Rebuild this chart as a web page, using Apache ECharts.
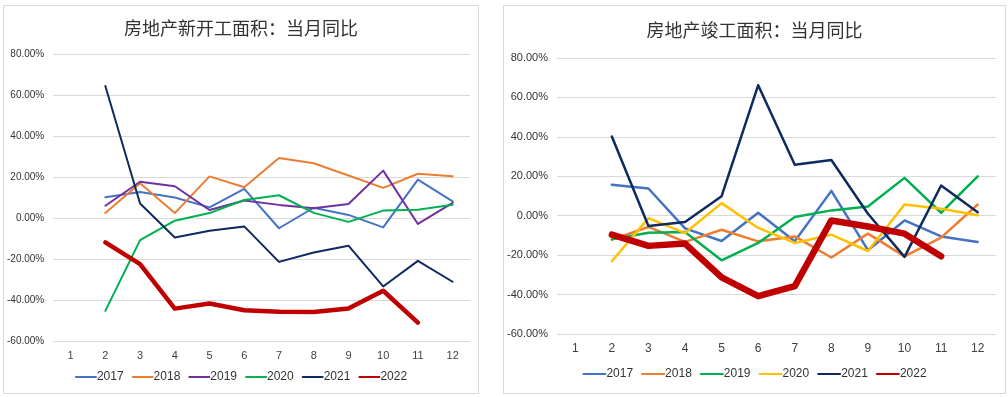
<!DOCTYPE html>
<html>
<head>
<meta charset="utf-8">
<script src="https://cdn.jsdelivr.net/npm/echarts@6/dist/echarts.min.js"></script>
<style>
  body { margin: 0; background: #fff; }
  .card { position: absolute; border: 1px solid #d9d9d9; box-sizing: border-box; background: #fff; }
  #chart_left { left: 3px; top: 5px; width: 476px; height: 389px; }
  #chart_right { left: 503px; top: 5px; width: 503px; height: 389px; }
</style>
</head>
<body>
<div id="chart_left" class="card"></div>
<div id="chart_right" class="card"></div>
<script>
// 月份
var months = ['1','2','3','4','5','6','7','8','9','10','11','12'];
var years = ['2017','2018','2019','2020','2021','2022'];

// 新开工面积 当月同比 (%)
var start2017 = [null, 10.1, 12.7, 10.0, 5.2, 14.2, -5.0, 5.0, 1.5, -4.6, 18.7, 8.1];
var start2018 = [null, 2.4, 16.9, 2.4, 20.3, 15.0, 29.3, 26.7, 20.7, 14.7, 21.6, 20.4];
var start2019 = [null, 6.0, 17.7, 15.5, 3.9, 8.5, 6.4, 4.7, 6.8, 23.1, -2.9, 7.4];
var start2020 = [null, -45.3, -10.8, -1.3, 2.4, 8.8, 11.1, 2.5, -1.9, 3.6, 4.0, 6.5];
var start2021 = [null, 64.4, 7.1, -9.5, -6.2, -4.1, -21.4, -16.8, -13.5, -33.4, -20.9, -31.1];
var start2022 = [null, -11.9, -22.5, -44.2, -41.7, -45.0, -45.7, -45.8, -44.2, -35.5, -51.0, null];

// 竣工面积 当月同比 (%)
var done2017 = [null, 15.7, 13.8, -6.4, -12.8, 1.5, -13.0, 12.6, -17.5, -2.4, -10.5, -13.3];
var done2018 = [null, -12.1, -5.7, -13.3, -7.1, -13.0, -10.5, -21.2, -9.1, -20.6, -11.1, 5.7];
var done2019 = [null, -12.0, -8.6, -8.3, -22.6, -13.8, -0.7, 2.7, 4.7, 19.2, 1.5, 20.0];
var done2020 = [null, -23.1, -1.2, -8.8, 6.4, -6.2, -13.8, -9.6, -17.9, 5.7, 3.5, 0.2];
var done2021 = [null, 40.2, -5.2, -3.2, 9.9, 66.2, 25.8, 28.3, 1.0, -20.9, 15.3, 1.8];
var done2022 = [null, -9.6, -15.3, -14.1, -31.3, -40.8, -35.7, -2.4, -5.5, -9.1, -20.6, null];

var yTicksMin = -60, yTicksMax = 80, yTicksStep = 20;

function makeOption(title, seriesData, colors, widths, cfg) {
    var series = [];
    for (var i = 0; i < years.length; i++) {
        series.push({
            name: years[i],
            type: 'line',
            data: seriesData[i],
            symbol: 'none',
            smooth: false,
            connectNulls: false,
            lineStyle: { width: widths[i], color: colors[i], join: 'round', cap: 'round' },
            itemStyle: { color: colors[i] },
            z: i == 5 ? 10 : 2
        });
    }
    return {
        animation: false,
        title: {
            text: title,
            left: 'center',
            top: cfg.titleTop,
            textStyle: { fontFamily: 'Noto Sans CJK SC', fontSize: 18, fontWeight: 'normal', color: '#333333' }
        },
        legend: {
            data: years,
            bottom: cfg.legendBottom,
            left: 'center',
            itemWidth: cfg.legendW,
            itemHeight: 10,
            itemGap: 8,
            itemStyle: { opacity: 0 },
            textStyle: { fontFamily: 'Liberation Sans', fontSize: cfg.legendFont, color: '#333333', padding: [0, 0, 0, -4] }
        },
        grid: { left: cfg.left, right: cfg.right, top: cfg.top, bottom: cfg.bottom },
        xAxis: {
            type: 'category',
            data: months,
            boundaryGap: true,
            axisLine: { show: false },
            axisTick: { show: false },
            axisLabel: { fontFamily: 'Liberation Sans', fontSize: cfg.xFont, color: '#404040', margin: 9 }
        },
        yAxis: {
            type: 'value',
            min: yTicksMin,
            max: yTicksMax,
            interval: yTicksStep,
            axisLine: { show: false },
            axisTick: { show: false },
            splitLine: { lineStyle: { color: '#d9d9d9', width: 1 } },
            axisLabel: {
                fontFamily: 'Liberation Sans', fontSize: cfg.yFont, color: '#333333', margin: 9,
                formatter: function (v) { return v.toFixed(2) + '%'; }
            }
        },
        series: series
    };
}

var chartLeft = echarts.init(document.getElementById('chart_left'));
chartLeft.setOption(makeOption('房地产新开工面积：当月同比',
    [start2017, start2018, start2019, start2020, start2021, start2022],
    ['#4472C4', '#ED7D31', '#7030A0', '#00B050', '#0E2A60', '#C00000'],
    [2, 2, 2, 2, 2, 4.5],
    { titleTop: 8, legendBottom: 5, legendW: 20, legendFont: 12, left: 48, right: 8, top: 48, bottom: 52, xFont: 11, yFont: 10 }));

var chartRight = echarts.init(document.getElementById('chart_right'));
chartRight.setOption(makeOption('房地产竣工面积：当月同比',
    [done2017, done2018, done2019, done2020, done2021, done2022],
    ['#4472C4', '#ED7D31', '#00B050', '#FFC000', '#0E2A60', '#C00000'],
    [2.5, 2.5, 2.5, 2.5, 2.5, 6.5],
    { titleTop: 10, legendBottom: 8, legendW: 22, legendFont: 12, left: 50, right: 9, top: 52, bottom: 59, xFont: 12, yFont: 11 }));
</script>
</body>
</html>
